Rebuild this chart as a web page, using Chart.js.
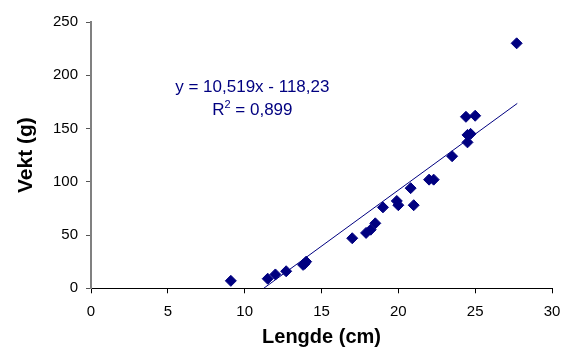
<!DOCTYPE html>
<html>
<head>
<meta charset="utf-8">
<script src="https://cdn.jsdelivr.net/npm/chart.js@4/dist/chart.umd.min.js"></script>
<style>
  html, body { margin: 0; padding: 0; background: #fff; }
  #wrap { width: 576px; height: 349px; }
</style>
</head>
<body>
<div id="wrap"><canvas id="chart" width="576" height="349"></canvas></div>
<script>
// Lengde (cm) og vekt (g) for hver fisk
const lengde = [9.1, 11.5, 12.0, 12.7, 13.8, 13.9, 14.0, 17.0, 17.9, 18.2, 18.5, 19.0, 19.9, 20.0, 20.8, 21.0, 22.0, 22.3, 23.5, 24.4, 24.5, 24.5, 24.7, 25.0, 27.7];
const vekt = [7, 9, 13, 16, 22, 23, 25, 47, 52, 55, 61, 76, 82, 78, 94, 78, 102, 102, 124, 161, 137, 144, 145, 162, 230];

// Lineær trendlinje fra Excel
const slope = 10.519;
const intercept = -118.23;
const rSquared = 0.899;
const trendX = [11.24, 27.74];

const xTicks = [0, 5, 10, 15, 20, 25, 30];
const yTicks = [0, 50, 100, 150, 200, 250];

const navy = '#000080';
const fontName = '"Liberation Sans", Arial, sans-serif';

const points = lengde.map((x, i) => ({ x: x, y: vekt[i] }));
const trend = trendX.map(x => ({ x: x, y: slope * x + intercept }));

function fmt(n) {
    return String(n).replace('.', ',');
}

// Equation label like Excel's trendline label
const equationLabel = {
    id: 'equationLabel',
    afterDatasetsDraw(chart) {
        const ctx = chart.ctx;
        const xs = chart.scales.x;
        const ys = chart.scales.y;
        const cx = xs.getPixelForValue(10.5);
        const y1 = ys.getPixelForValue(184);
        const y2 = ys.getPixelForValue(163);
        ctx.save();
        ctx.fillStyle = navy;
        ctx.textBaseline = 'alphabetic';
        ctx.font = '17px ' + fontName;
        ctx.textAlign = 'center';
        ctx.fillText('y = ' + fmt(slope) + 'x - ' + fmt(Math.abs(intercept)), cx, y1);

        // R² line with a raised 2
        ctx.textAlign = 'left';
        const big = '17px ' + fontName;
        const small = '11px ' + fontName;
        const rest = ' = ' + fmt(rSquared);
        ctx.font = big;
        const wR = ctx.measureText('R').width;
        const wRest = ctx.measureText(rest).width;
        ctx.font = small;
        const w2 = ctx.measureText('2').width;
        let x = cx - (wR + w2 + wRest) / 2;
        ctx.font = big;
        ctx.fillText('R', x, y2);
        x += wR;
        ctx.font = small;
        ctx.fillText('2', x, y2 - 7);
        x += w2;
        ctx.font = big;
        ctx.fillText(rest, x, y2);
        ctx.restore();
    }
};

new Chart(document.getElementById('chart'), {
    type: 'scatter',
    data: {
        datasets: [{
            label: 'Vekt',
            data: points,
            pointStyle: 'rectRot',
            pointRadius: 5.5,
            pointHoverRadius: 5.5,
            backgroundColor: navy,
            borderColor: navy,
            borderWidth: 1,
            order: 1
        }, {
            label: 'Trend',
            data: trend,
            showLine: true,
            pointRadius: 0,
            borderColor: navy,
            borderWidth: 1,
            fill: false,
            order: 2
        }]
    },
    options: {
        responsive: false,
        animation: false,
        events: [],
        layout: { padding: { left: 0, right: 24, top: 22, bottom: 0 } },
        plugins: {
            legend: { display: false },
            tooltip: { enabled: false }
        },
        scales: {
            x: {
                type: 'linear',
                min: 0,
                max: 30,
                afterFit: scale => { scale.height = 60.7; },
                afterBuildTicks: scale => { scale.ticks = xTicks.map(v => ({ value: v })); },
                ticks: {
                    color: '#000',
                    padding: 10,
                    font: { family: fontName, size: 15 },
                    maxRotation: 0
                },
                grid: {
                    display: true,
                    drawOnChartArea: false,
                    drawTicks: true,
                    tickLength: 5,
                    color: '#000'
                },
                border: { display: true, color: '#000', width: 1 },
                title: {
                    display: true,
                    text: 'Lengde (cm)',
                    color: '#000',
                    font: { family: fontName, size: 20, weight: 'bold' },
                    padding: { top: 0, bottom: 0 }
                }
            },
            y: {
                type: 'linear',
                min: 0,
                max: 250,
                afterFit: scale => { scale.width = 91; },
                afterBuildTicks: scale => { scale.ticks = yTicks.map(v => ({ value: v })); },
                ticks: {
                    color: '#000',
                    padding: 8,
                    font: { family: fontName, size: 15 }
                },
                grid: {
                    display: true,
                    drawOnChartArea: false,
                    drawTicks: true,
                    tickLength: 5,
                    color: '#555'
                },
                border: { display: true, color: '#808080', width: 2 },
                title: {
                    display: true,
                    text: 'Vekt (g)',
                    color: '#000',
                    font: { family: fontName, size: 21, weight: 'bold' },
                    padding: { top: 14, bottom: 0 }
                }
            }
        }
    },
    plugins: [equationLabel]
});
</script>
</body>
</html>
